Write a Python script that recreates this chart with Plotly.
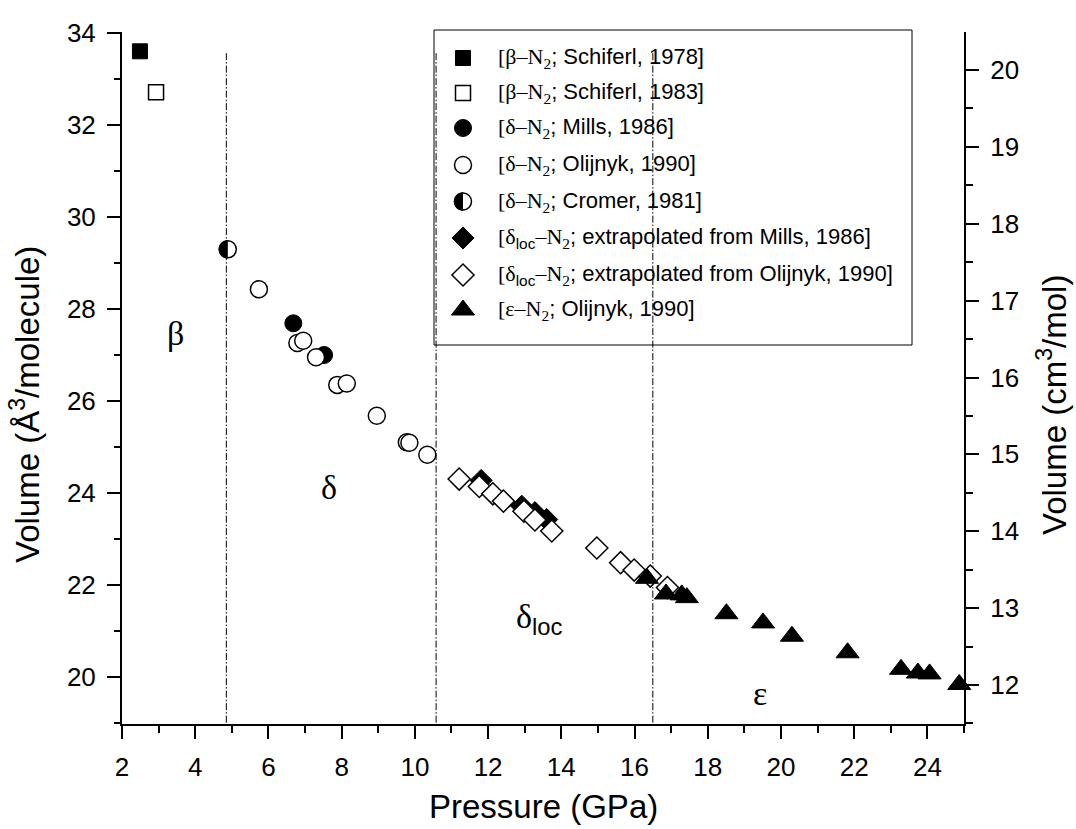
import plotly.graph_objects as go

# ---------------- data ----------------
schiferl78_P = [2.49]
schiferl78_V = [33.61]
schiferl83_P = [2.93]
schiferl83_V = [32.72]
mills_P = [6.68, 7.52]
mills_V = [27.69, 27.00]
olijnyk_d_P = [5.74, 6.79, 6.95, 7.30, 7.88, 8.14, 8.96, 9.78, 9.85, 10.34]
olijnyk_d_V = [28.43, 27.26, 27.31, 26.95, 26.35, 26.38, 25.68, 25.10, 25.09, 24.83]
cromer_P = [4.89]
cromer_V = [29.30]
dloc_mills_P = [11.81, 12.92, 13.28, 13.60]
dloc_mills_V = [24.27, 23.71, 23.57, 23.42]
dloc_olij_P = [11.21, 11.76, 12.13, 12.42, 12.98, 13.28, 13.74, 14.97, 15.62, 15.99, 16.43, 16.90]
dloc_olij_V = [24.30, 24.14, 23.98, 23.82, 23.60, 23.41, 23.17, 22.80, 22.48, 22.32, 22.19, 21.94]
eps_P = [16.34, 16.86, 17.29, 17.43, 18.51, 19.51, 20.30, 21.82, 23.28, 23.74, 24.06, 24.87]
eps_V = [22.14, 21.80, 21.78, 21.72, 21.37, 21.17, 20.88, 20.52, 20.16, 20.08, 20.06, 19.83]

phase_boundaries_P = [4.85, 10.58, 16.50]
boundary_top_V = 33.57

x_ticks = [2, 4, 6, 8, 10, 12, 14, 16, 18, 20, 22, 24]
y_ticks = [20, 22, 24, 26, 28, 30, 32, 34]
y2_ticks = [12, 13, 14, 15, 16, 17, 18, 19, 20]

phase_labels = ["β", "δ", "δ<sub><span style=\"font-family:'Liberation Sans'\">loc</span></sub>", "ε"]
phase_label_P = [3.45, 7.65, 13.40, 19.43]
phase_label_V = [27.47, 24.12, 21.25, 19.63]

SERIF = "Liberation Serif"
SANS = "Liberation Sans"


def S(t):
    return f"<span style=\"font-family:'{SERIF}'\">{t}</span>"


def sub(t):
    return f"<sub>{t}</sub>"


legend_texts = [
    S("[β–N") + sub(S("2")) + "; Schiferl, 1978]",
    S("[β–N") + sub(S("2")) + "; Schiferl, 1983]",
    S("[δ–N") + sub(S("2")) + "; Mills, 1986]",
    S("[δ–N") + sub(S("2")) + "; Olijnyk, 1990]",
    S("[δ–N") + sub(S("2")) + "; Cromer, 1981]",
    S("[δ") + sub("loc") + S("–N") + sub(S("2")) + "; extrapolated from Mills, 1986]",
    S("[δ") + sub("loc") + S("–N") + sub(S("2")) + "; extrapolated from Olijnyk, 1990]",
    S("[ε–N") + sub(S("2")) + "; Olijnyk, 1990]",
]

# ---------------- layout geometry (pixels) ----------------
W, H = 1076, 829
L, R, T, B = 122, 964, 32, 724

fig = go.Figure()

BLK = "black"
OPEN_LINE = dict(color=BLK, width=1.5)

styles = [
    dict(symbol="square", size=15, color=BLK, line=dict(color=BLK, width=1)),
    dict(symbol="square", size=15, color="white", line=OPEN_LINE),
    dict(symbol="circle", size=17, color=BLK, line=dict(color=BLK, width=1)),
    dict(symbol="circle", size=17, color="white", line=OPEN_LINE),
    dict(symbol="circle", size=17, color="white", line=OPEN_LINE),
    dict(symbol="diamond", size=17, color=BLK, line=dict(color=BLK, width=1)),
    dict(symbol="diamond", size=17, color="white", line=OPEN_LINE),
    dict(symbol="triangle-up", size=20, color=BLK, line=dict(color=BLK, width=1)),
]

series = [
    (schiferl78_P, schiferl78_V),
    (schiferl83_P, schiferl83_V),
    (mills_P, mills_V),
    (olijnyk_d_P, olijnyk_d_V),
    (cromer_P, cromer_V),
    (dloc_mills_P, dloc_mills_V),
    (dloc_olij_P, dloc_olij_V),
    (eps_P, eps_V),
]

for (px, vy), st in zip(series, styles):
    fig.add_trace(go.Scatter(x=px, y=vy, mode="markers", marker=st,
                             showlegend=False, cliponaxis=False, hoverinfo="skip"))

# empty trace on right axis so it is drawn
fig.add_trace(go.Scatter(x=[], y=[], yaxis="y2", showlegend=False))

# legend symbols (on a pixel-coordinate overlay axis)
leg_sym_x = 463
leg_rows = [58, 93, 128, 165, 201.5, 238, 275, 310]
for i, st in enumerate(styles):
    fig.add_trace(go.Scatter(x=[leg_sym_x], y=[leg_rows[i]], mode="markers", marker=st,
                             xaxis="x3", yaxis="y3", showlegend=False,
                             cliponaxis=False, hoverinfo="skip"))


def paper(xp, yp):
    return (xp - L) / (R - L), (B - yp) / (B - T)


# half-filled circle path (left half)
r = 9.2
k = 0.5523 * r
half_path = (f"M 0,{r} C {-k},{r} {-r},{k} {-r},0 "
             f"C {-r},{-k} {-k},{-r} 0,{-r} Z")

shapes = []
for xb in phase_boundaries_P:
    shapes.append(dict(type="line", xref="x", yref="y", x0=xb, x1=xb,
                       y0=boundary_top_V, y1=18.97, layer="below",
                       line=dict(color=BLK, width=1, dash="7px,2px,1.5px,2px")))

bx0, by0 = paper(434, 345)
bx1, by1 = paper(912, 30)
shapes.append(dict(type="rect", xref="paper", yref="paper", x0=bx0, x1=bx1, y0=by0, y1=by1,
                   fillcolor="white", line=dict(color=BLK, width=1), layer="between"))

shapes.append(dict(type="path", xref="x", yref="y", xsizemode="pixel", ysizemode="pixel",
                   xanchor=cromer_P[0], yanchor=cromer_V[0], path=half_path,
                   fillcolor=BLK, line=dict(width=0), layer="above"))
lx, ly = paper(leg_sym_x, leg_rows[4])
shapes.append(dict(type="path", xref="paper", yref="paper", xsizemode="pixel", ysizemode="pixel",
                   xanchor=lx, yanchor=ly, path=half_path,
                   fillcolor=BLK, line=dict(width=0), layer="above"))

annotations = []
for i, txt in enumerate(legend_texts):
    ax_, ay_ = paper(496, leg_rows[i])
    annotations.append(dict(x=ax_, y=ay_, xref="paper", yref="paper", text=txt,
                            showarrow=False, xanchor="left", yanchor="middle",
                            font=dict(family=SANS, size=22, color=BLK)))

for txt, p, v in zip(phase_labels, phase_label_P, phase_label_V):
    annotations.append(dict(x=p, y=v, xref="x", yref="y", text=txt, showarrow=False,
                            xanchor="center", yanchor="middle",
                            font=dict(family=SERIF, size=34, color=BLK)))

# axis titles
tx, ty = paper(543, 806)
annotations.append(dict(x=tx, y=ty, xref="paper", yref="paper", text="Pressure (GPa)",
                        showarrow=False, xanchor="center", yanchor="middle",
                        font=dict(family=SANS, size=33, color=BLK)))
tx, ty = paper(25, 405)
annotations.append(dict(x=tx, y=ty, xref="paper", yref="paper",
                        text="Volume (Å<sup>3</sup>/molecule)", textangle=-90,
                        showarrow=False, xanchor="center", yanchor="middle",
                        font=dict(family=SANS, size=33, color=BLK)))
tx, ty = paper(1052, 405)
annotations.append(dict(x=tx, y=ty, xref="paper", yref="paper",
                        text="Volume (cm<sup>3</sup>/mol)", textangle=-90,
                        showarrow=False, xanchor="center", yanchor="middle",
                        font=dict(family=SANS, size=33, color=BLK)))

tickfont = dict(family=SANS, size=26, color=BLK)
common = dict(showline=True, linewidth=2, linecolor=BLK, ticks="outside", tickwidth=2,
              tickcolor=BLK, ticklen=13, showgrid=False, zeroline=False, tickfont=tickfont)

fig.update_layout(
    width=W, height=H,
    margin=dict(l=L, r=W - R, t=T, b=H - B),
    paper_bgcolor="white", plot_bgcolor="white",
    showlegend=False,
    xaxis=dict(range=[2, 25], tickvals=x_ticks, ticklabelstandoff=6,
               minor=dict(dtick=1, tick0=2, ticklen=7, tickwidth=2, ticks="outside", tickcolor=BLK),
               **common),
    yaxis=dict(range=[18.97, 34.03], tickvals=y_ticks, ticklabelstandoff=6,
               minor=dict(dtick=1, tick0=20, ticklen=6, tickwidth=2, ticks="outside", tickcolor=BLK),
               **common),
    yaxis2=dict(range=[11.493, 20.494], tickvals=y2_ticks, overlaying="y", side="right",
                anchor="x", ticklabelstandoff=6,
                minor=dict(dtick=0.5, tick0=12, ticklen=7, tickwidth=2, ticks="outside", tickcolor=BLK),
                **common),
    xaxis3=dict(range=[L, R], overlaying="x", visible=False),
    yaxis3=dict(range=[B, T], overlaying="y", visible=False),
    shapes=shapes,
    annotations=annotations,
)

fig.write_html("out.html")
